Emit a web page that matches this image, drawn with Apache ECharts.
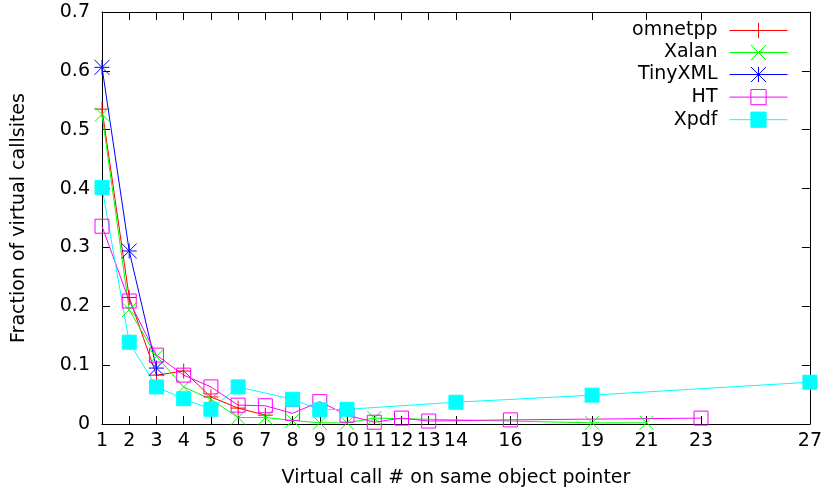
<!DOCTYPE html>
<html>
<head>
<meta charset="utf-8">
<script src="https://cdn.jsdelivr.net/npm/echarts@6/dist/echarts.min.js"></script>
<style>
html, body { margin: 0; padding: 0; background: #fff; }
#chart { width: 825px; height: 493px; }
</style>
</head>
<body>
<div id="chart"></div>
<script>
// x tick positions shown on the axis
var xTicks = [1, 2, 3, 4, 5, 6, 7, 8, 9, 10, 11, 12, 13, 14, 16, 19, 21, 23, 27];

// one x list and one y list per program
var omnetppX = [1, 2, 3, 4, 5, 6, 7];
var omnetppY = [0.535, 0.215, 0.083, 0.09, 0.046, 0.027, 0.015];

var xalanX = [1, 2, 3, 4, 5, 6, 7, 8, 9, 10, 11, 19, 21];
var xalanY = [0.526, 0.194, 0.115, 0.063, 0.042, 0.011, 0.011, 0.006, 0.002, 0.002, 0.01, 0.002, 0.002];

var tinyX = [1, 2, 3];
var tinyY = [0.606, 0.294, 0.095];

var htX = [1, 2, 3, 4, 5, 6, 7, 8, 9, 10, 11, 12, 13, 16, 23];
var htY = [0.336, 0.209, 0.117, 0.083, 0.063, 0.032, 0.031, 0.018, 0.038, 0.015, 0.003, 0.01, 0.005, 0.007, 0.01];

var xpdfX = [1, 2, 3, 4, 5, 6, 8, 9, 10, 14, 19, 27];
var xpdfY = [0.402, 0.139, 0.063, 0.043, 0.025, 0.063, 0.042, 0.024, 0.025, 0.037, 0.049, 0.071];

function pairs(xs, ys) {
	return xs.map(function (x, i) { return [x, ys[i]]; });
}

var font = 'DejaVu Sans';
var fs = 19;

function mkSeries(name, xs, ys, color, symbol, size, fill) {
	return {
		name: name,
		type: 'line',
		data: pairs(xs, ys),
		symbol: symbol,
		symbolSize: size,
		showAllSymbol: true,
		lineStyle: { color: color, width: 1 },
		itemStyle: { color: fill, borderColor: color, borderWidth: 1 },
		emphasis: { disabled: true },
		animation: false
	};
}

var plusPath = 'path://M0,5 L10,5 M5,0 L5,10';
var crossPath = 'path://M0,0 L10,10 M10,0 L0,10';
var starPath = 'path://M0,0 L10,10 M10,0 L0,10 M5,0 L5,10 M0,5 L10,5';
var boxPath = 'path://M0,0 L10,0 L10,10 L0,10 Z';

var myChart = echarts.init(document.getElementById('chart'));
var option = {
	backgroundColor: '#fff',
	animation: false,
	textStyle: { fontFamily: font },
	grid: {
		left: 102,
		right: 14,
		top: 12,
		bottom: 68
	},
	legend: {
		orient: 'vertical',
		align: 'right',
		right: 32,
		top: 16,
		itemWidth: 58,
		itemHeight: 19,
		itemGap: 3,
		itemStyle: { borderWidth: 1 },
		lineStyle: { width: 1 },
		textStyle: { fontFamily: font, fontSize: fs, color: '#000', padding: [0, 7, 0, 0] },
		data: ['omnetpp', 'Xalan', 'TinyXML', 'HT', 'Xpdf']
	},
	xAxis: [{
		type: 'value',
		min: 1,
		max: 27,
		name: 'Virtual call # on same object pointer',
		nameLocation: 'middle',
		nameGap: 45,
		nameTextStyle: { fontFamily: font, fontSize: fs, color: '#000' },
		axisLine: { show: true, lineStyle: { color: '#000', width: 1 } },
		axisTick: { show: true, inside: true, length: 8, customValues: xTicks, lineStyle: { color: '#000' } },
		axisLabel: { show: true, margin: 8, customValues: xTicks, fontFamily: font, fontSize: fs, color: '#000' },
		splitLine: { show: false }
	}, {
		type: 'value',
		position: 'top',
		min: 1,
		max: 27,
		axisLine: { show: true, onZero: false, lineStyle: { color: '#000', width: 1 } },
		axisTick: { show: true, inside: true, length: 8, customValues: xTicks, lineStyle: { color: '#000' } },
		axisLabel: { show: false },
		splitLine: { show: false }
	}],
	yAxis: [{
		type: 'value',
		min: 0,
		max: 0.7,
		interval: 0.1,
		name: 'Fraction of virtual callsites',
		nameLocation: 'middle',
		nameGap: 73,
		nameTextStyle: { fontFamily: font, fontSize: fs, color: '#000' },
		axisLine: { show: true, lineStyle: { color: '#000', width: 1 } },
		axisTick: { show: true, inside: true, length: 8, lineStyle: { color: '#000' } },
		axisLabel: { margin: 12, fontFamily: font, fontSize: fs, color: '#000' },
		splitLine: { show: false }
	}, {
		type: 'value',
		position: 'right',
		min: 0,
		max: 0.7,
		interval: 0.1,
		axisLine: { show: true, onZero: false, lineStyle: { color: '#000', width: 1 } },
		axisTick: { show: true, inside: true, length: 8, lineStyle: { color: '#000' } },
		axisLabel: { show: false },
		splitLine: { show: false }
	}],
	series: [
		mkSeries('omnetpp', omnetppX, omnetppY, '#ff0000', plusPath, 15, '#ff0000'),
		mkSeries('Xalan', xalanX, xalanY, '#00ff00', crossPath, 14, '#00ff00'),
		mkSeries('TinyXML', tinyX, tinyY, '#0000ff', starPath, 15, '#0000ff'),
		mkSeries('HT', htX, htY, '#ff00ff', boxPath, 14, 'none'),
		mkSeries('Xpdf', xpdfX, xpdfY, '#00ffff', 'rect', 14, '#00ffff')
	]
};
myChart.setOption(option);
</script>
</body>
</html>
